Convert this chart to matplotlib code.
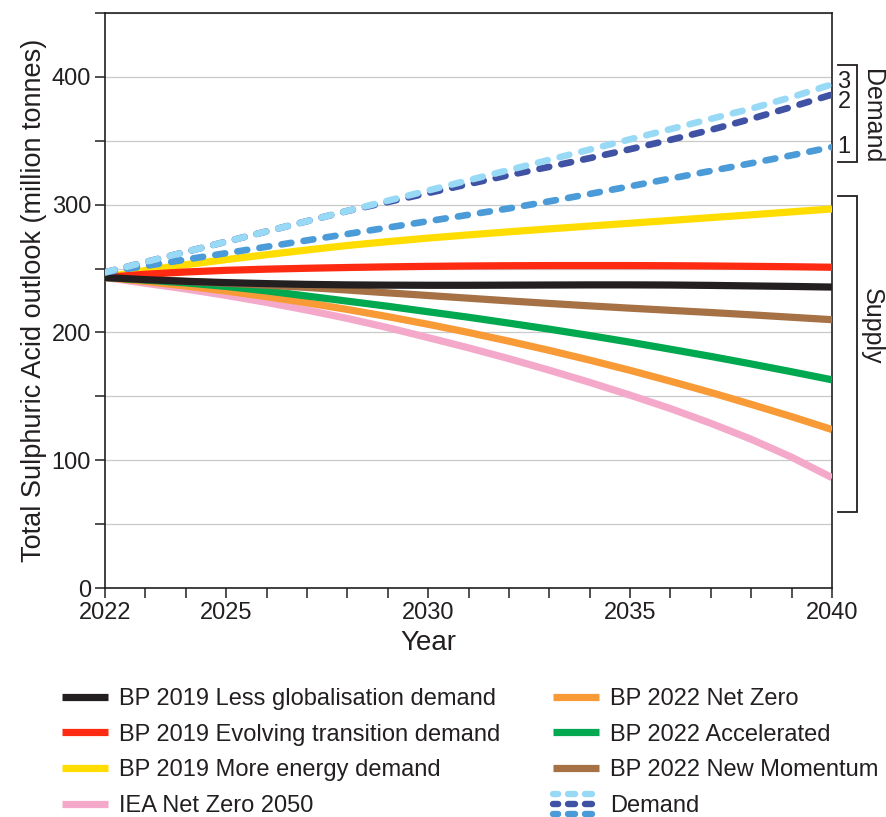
import matplotlib
matplotlib.use('Agg')
import matplotlib.pyplot as plt
from matplotlib.lines import Line2D
from matplotlib.legend_handler import HandlerBase
import matplotlib.transforms as mtransforms

plt.rcParams['font.family'] = ['Liberation Sans', 'DejaVu Sans']

# ---------------- data ----------------
years = list(range(2022, 2041))

bp2019_less_glob = [243, 241.3, 240, 239, 238.2, 237.6, 237.2, 237, 236.9, 236.9, 237,
                    237.1, 237.2, 237.2, 237.1, 236.8, 236.4, 236, 235.5]
bp2019_evolving = [243, 245.5, 247.3, 248.6, 249.5, 250.2, 250.8, 251.3, 251.7, 252,
                   252.2, 252.3, 252.3, 252.3, 252.2, 252, 251.7, 251.4, 251]
bp2019_more = [243, 248.5, 253, 257, 260.8, 264.5, 268, 271, 273.8, 276.3, 278.7,
               281, 283.2, 285.4, 287.6, 289.8, 292, 294.3, 296.6]
iea_nz2050 = [243, 238.5, 234, 229, 223.5, 217.5, 211, 203.8, 196, 188, 179.5, 170.5,
              161, 151, 140.5, 129, 116.5, 102.5, 86.5]
bp2022_netzero = [243, 239.9, 236.3, 232.4, 228, 223.2, 218, 212.4, 206.4, 200,
                  193.2, 186, 178.4, 170.4, 161.9, 153.1, 143.8, 134.2, 124.1]
bp2022_accel = [243, 241, 238.8, 236, 232.5, 228.5, 224.5, 220.5, 216.2, 211.9, 207.3,
                202.6, 197.6, 192.4, 186.9, 181.3, 175.4, 169.3, 163]
bp2022_newmom = [243, 241.5, 240, 238.5, 237, 235.2, 233.2, 231, 228.9, 226.8, 224.7,
                 222.7, 220.8, 219, 217.3, 215.6, 213.8, 211.9, 210]
demand_1 = [247, 252, 257, 262, 267, 272, 277, 282, 287, 292, 297, 302.5, 308.3, 314.3,
            320.3, 326.3, 332.3, 338.5, 345]
demand_2 = [247, 255, 263, 271, 279, 287, 295, 302, 309, 316, 323, 329.5, 336.3, 343.3,
            350.6, 358.4, 367, 376.3, 386]
demand_3 = [247, 255, 263, 271, 279, 287, 295, 303, 311, 319, 327, 335, 343, 351,
            359, 367, 375, 384, 394]

supply_labels = ["BP 2019 Less globalisation demand", "BP 2019 Evolving transition demand",
                 "BP 2019 More energy demand", "IEA Net Zero 2050",
                 "BP 2022 Net Zero", "BP 2022 Accelerated", "BP 2022 New Momentum"]
demand_label = "Demand"
x_major = [2022, 2025, 2030, 2035, 2040]
y_major = [0, 100, 200, 300, 400]

# ---------------- styles ----------------
C_BLACK = '#231f20'
C_RED = '#ff2a12'
C_YELLOW = '#ffdd00'
C_PINK = '#f4a9cb'
C_ORANGE = '#f89a36'
C_GREEN = '#00a84f'
C_BROWN = '#a67245'
C_D3 = '#98daf6'
C_D2 = '#3f52a4'
C_D1 = '#4a9bd7'

fig = plt.figure(figsize=(8.87, 8.17), dpi=100)
W, H = 887, 817
ax = fig.add_axes([105 / W, 1 - 588.3 / H, 727 / W, 575.6 / H])

LW = 5.2
supply_series = [
    (iea_nz2050, C_PINK),
    (bp2022_netzero, C_ORANGE),
    (bp2022_accel, C_GREEN),
    (bp2022_newmom, C_BROWN),
    (bp2019_more, C_YELLOW),
    (bp2019_evolving, C_RED),
    (bp2019_less_glob, C_BLACK),
]
for vals, col in supply_series:
    ax.plot(years, vals, color=col, lw=LW, solid_capstyle='butt',
            solid_joinstyle='round', zorder=3)

DLW = 4.8
for vals, col in [(demand_1, C_D1), (demand_2, C_D2), (demand_3, C_D3)]:
    ax.plot(years, vals, color=col, lw=DLW, ls=(0, (1.5, 1.85)),
            dash_capstyle='round', zorder=4)

ax.set_xlim(2022, 2040)
ax.set_ylim(0, 450)
ax.set_xticks(x_major)
ax.set_xticks(years, minor=True)
ax.set_yticks(y_major)
ax.set_yticks([50, 150, 250, 350, 450], minor=True)
ax.tick_params(which='both', direction='out', length=7, width=1.1, color=C_BLACK,
               labelsize=17, labelcolor=C_BLACK)
ax.tick_params(axis='x', which='both', pad=3)
ax.tick_params(axis='y', which='both', pad=3)
for s in ax.spines.values():
    s.set_linewidth(1.2)
    s.set_color(C_BLACK)
ax.grid(which='both', axis='y', color='#cacaca', lw=0.9)
ax.set_axisbelow(True)

ax.set_xlabel('Year', fontsize=20, color=C_BLACK)
ax.xaxis.set_label_coords((428 - 105) / 727, -0.073)
ax.set_ylabel('Total Sulphuric Acid outlook (million tonnes)', fontsize=19.5,
              color=C_BLACK)
ax.yaxis.set_label_coords(-0.08, 0.5)

# ---------------- right-hand brackets ----------------
btr = mtransforms.blended_transform_factory(ax.transAxes, ax.transData)
xa0 = (838 - 105) / 727
xa1 = (857 - 105) / 727
for y0, y1 in [(409, 333), (307, 60)]:
    ax.plot([xa0, xa1, xa1, xa0], [y0, y0, y1, y1], transform=btr, color=C_BLACK,
            lw=1.3, clip_on=False, solid_joinstyle='miter')
xn = (844 - 105) / 727
for txt, yv in [('3', 396), ('2', 380), ('1', 345)]:
    ax.text(xn, yv, txt, transform=btr, fontsize=17, ha='center', va='center',
            color=C_BLACK)
xl = (872 - 105) / 727
ax.text(xl, (588.3 - 116) / 1.279, 'Demand', transform=btr, rotation=-90,
        fontsize=18, ha='center', va='center', color=C_BLACK)
ax.text(xl, (588.3 - 326) / 1.279, 'Supply', transform=btr, rotation=-90,
        fontsize=18, ha='center', va='center', color=C_BLACK)

# ---------------- legend ----------------
class DemandHandle:
    pass


class HandlerDemand(HandlerBase):
    def create_artists(self, legend, orig_handle, xdescent, ydescent, width, height,
                       fontsize, trans):
        arts = []
        yc = height / 2 - ydescent
        off = 7.2
        for dy, col in [(off, C_D3), (0, C_D2), (-off, C_D1)]:
            ln = Line2D([-xdescent, -xdescent + width], [yc + dy, yc + dy], color=col,
                        lw=4.6, ls=(0.3, (1.1, 1.55)), dash_capstyle='round')
            ln.set_transform(trans)
            arts.append(ln)
        return arts


def mk(col):
    return Line2D([], [], color=col, lw=5.2, solid_capstyle='butt')


left_h = [mk(C_BLACK), mk(C_RED), mk(C_YELLOW), mk(C_PINK)]
right_h = [mk(C_ORANGE), mk(C_GREEN), mk(C_BROWN), DemandHandle()]
common = dict(loc='upper left', frameon=False, fontsize=17, handlelength=1.95,
              handletextpad=0.45, labelspacing=0.58, borderpad=0, borderaxespad=0,
              labelcolor=C_BLACK)
fig.legend(left_h, supply_labels[:4], bbox_to_anchor=(62 / W, 1 - 688 / H), **common)
fig.legend(right_h, supply_labels[4:] + [demand_label],
           bbox_to_anchor=(553 / W, 1 - 688 / H),
           handler_map={DemandHandle: HandlerDemand()}, **common)

fig.savefig('out.png', dpi=100)
